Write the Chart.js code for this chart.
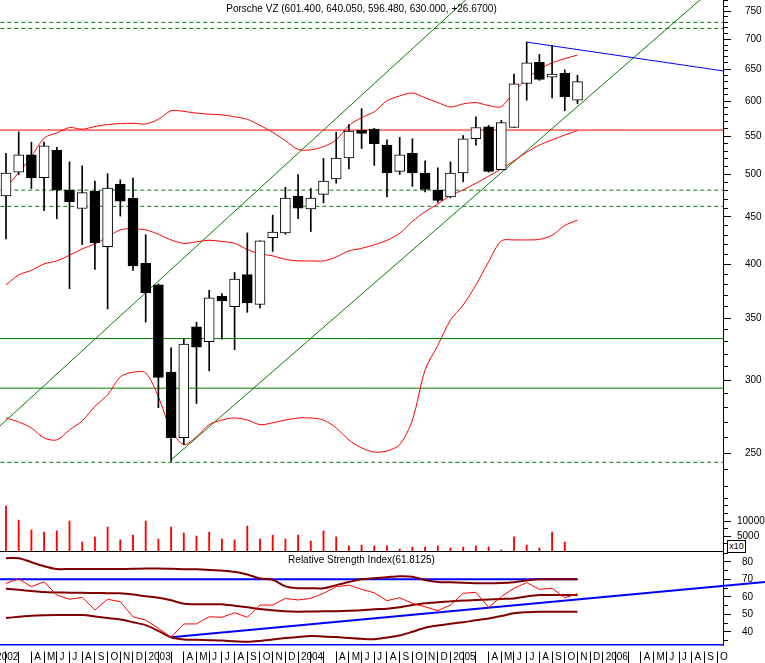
<!DOCTYPE html>
<html>
<head>
<meta charset="utf-8">
<script src="https://cdn.jsdelivr.net/npm/chart.js"></script>
<style>
  html, body { margin:0; padding:0; background:#ffffff; }
  #wrap { position:relative; width:765px; height:663px; overflow:hidden; background:#fff; }
  #wrap canvas { position:absolute; left:0; }
  .txt { position:absolute; font-family:"Liberation Sans", Arial, sans-serif; font-size:10px; line-height:12px; color:#000; white-space:nowrap; }
</style>
</head>
<body>
<div id="wrap">
  <canvas id="cPrice" width="765" height="497" style="top:0px"></canvas>
  <canvas id="cVol" width="765" height="55" style="top:497px"></canvas>
  <canvas id="cRsi" width="765" height="112" style="top:551px"></canvas>
  <div class="txt" style="left:0;width:723px;top:3px;text-align:center">Porsche VZ (601.400, 640.050, 596.480, 630.000, +26.6700)</div>
  <div class="txt" style="left:0;width:723px;top:554px;text-align:center">Relative Strength Index(61.8125)</div>
  <div class="txt" style="left:727px;top:540px;width:17px;height:11px;border:1px solid #000;font-size:9px;line-height:11px;text-align:center;background:#fff">x10</div>
</div>
<script>
// ---------- DATA (monthly, index 0 = Feb 2002 ... 45 = Nov 2005) ----------
const opens  = [474,503,525,496,531,481,459.5,480,418,488,471.3,401,380,306,260,342.5,330,369.5,360,390,362,427.5,432.5,474,459,476,494.5,521,558,560,538,504,527,502,481,473,502,546.5,563,506,562,627,661,637,643,601.4];
const highs  = [527,556,542,542,535,516,511,492,501,493.5,495.5,430.5,381,325,332.5,346.4,375,372,392,432.5,424,452,484.5,500,483,520.5,555.5,566,589,561,545,548.5,546.5,517.5,508.5,516,551,577,565,572,642,695,674,689,648.7,640.05];
const lows   = [426,500,483,457,448,376.5,420,395,358,451,394,346.4,280,245,255.5,283,307,332,323.5,355,359,413,431,448,434,466,489.5,507,533.5,511.5,473,500,485.5,479,466.5,472,491,538,503,506,562,601.5,632,605,586,596.48];
const closes = [502,525,496,537,481,467.5,478,422,483.5,468,398.5,372.8,302,260,328,325.6,368,365.3,385.5,363.5,424,433.5,471.5,460,471.5,492,521,557,554,540,502,525,502,481.8,469,502,546.5,562,504,569,626.5,660,633.5,642,607,630];

const upperBand  = [483.8,502.5,522.5,547.5,554.5,562,559.6,563.4,566.2,567.5,568,567,573.6,586,585,582.5,581,580,577.2,573.6,565,555.4,544,532.3,531.7,536,545,565,576,584.4,600.7,608,612.5,605,598,591.4,596,598,593.6,592,614.5,634,650,660,667,673];
const middleBand = [380,389.6,394,400.4,403.4,409.2,415.6,420.9,428,435.8,436.9,435.8,431,425,421.4,423,424.7,423.4,421.5,415,410.6,408.5,404.9,403.4,403.4,403.4,407.4,413.6,416.2,419.9,424.6,432.2,445,455.9,464.8,474.6,481.4,489.3,497.9,507.1,517.3,528.6,538,545,551.7,557.7];
const lowerBand  = [273,270.3,266.3,259.8,258.5,265,271,281,289.2,302.4,305.9,305.4,287.7,265,255.5,260.5,268.5,271.6,273,271.6,268.5,269.7,271.6,273,273,271.6,266.3,258.5,253.4,250.8,251.5,255.5,271.6,307.6,327,348.3,361.5,380,402.5,424,425,425,425.6,430,440.5,446.4];

const volumes = [15000,10300,7000,6300,6700,10000,3000,4700,8000,3700,5300,10000,4000,8000,6000,5000,6300,4000,3700,8300,4000,5300,4000,5300,3300,6700,4700,1700,2000,1700,1700,700,1300,1300,1700,1000,1300,1700,1300,300,4700,2000,1000,6300,3000,null];

const rsi      = [67.7,70.3,65.8,68.6,61,58.6,59.7,52.5,58.6,57.2,48.6,46.7,42,36.9,44.5,44.5,48.6,48.3,50.9,48.3,55.3,55.3,59.1,58.2,59.1,62,65.8,66.7,64.3,62.3,57.8,59.5,56.3,54.3,52.1,55.3,62,62.6,54,60.1,64.9,68.1,64.3,64.9,59.5,61.8];
const rsiUpper = [82.1,82.1,79.8,77.5,75.9,75.9,75.9,75.9,75.9,75.9,76,76.2,76.2,76,75.8,75.7,75.4,75,74.3,72.8,70.5,69.8,66,64.9,64.9,64.9,66.7,68.5,70,70.6,71.2,71.8,71.5,69.6,68.5,68.3,68,67.8,67.7,67.9,68.4,69.3,70,70,70,70];
const rsiMiddle= [64.6,64,63.3,62.7,62.5,62.4,62.3,62.2,62.1,62,61.3,60.3,59.5,58,56,55.8,55.8,55.7,54.9,54,53,52.3,51.7,51.5,51.6,51.7,51.8,52,52.3,52.9,53.2,54,55.3,56.3,56.9,57.4,57.9,58.2,58.5,58.8,59.1,60.2,61,61,61,61];
const rsiLower = [47.9,48.6,49.2,49.5,49.6,49.6,49.6,48.8,47.9,47,45.5,43.8,40.5,36.9,35.6,35.4,35.2,35,34.6,34.3,34.8,35.6,36.4,37.1,37.6,37.3,37,36.5,36,35.8,36.8,37.9,40,42.3,43.6,44.6,45.5,46.6,47.6,49,50.6,51.2,51.5,51.5,51.5,51.5];

// drawn levels / trend lines (month index, value)
const greenDashedLevels = [730, 719, 481, 462, 244.5];
const greenSolidLevels  = [332.6, 294];
const redLevels         = [558.5];
const blueTrend         = [{x:41, y:695}, {x:56.46, y:647}];
const channelUpper      = [{x:-0.4724, y:267.6}, {x:37, y:790}];
const channelLower      = [{x:13, y:246}, {x:56, y:801}];
const rsiLevel          = [{x:-0.4724, y:70}, {x:45, y:70}];
const rsiTrend          = [{x:13, y:36.9}, {x:59.76, y:68.5}];

// tick labels
const xTickLabels = ['2002','','','A','M','J','J','A','S','O','N','D',
                     '2003','','','A','M','J','J','A','S','O','N','D',
                     '2004','','','A','M','J','J','A','S','O','N','D',
                     '2005','','','A','M','J','J','A','S','O','N','D',
                     '2006','','','A','M','J','J','A','S','O'];
const priceLabels = [250,300,350,400,450,500,550,600,650,700,750];
const volLabels   = [5000,10000];
const rsiLabels   = [40,50,60,70,80];

// ---------- CHARTS ----------
const X_MIN = -0.4724, X_MAX = 56.457;
const FONT = '"Liberation Sans", Arial, sans-serif';
const basePlugins = { legend:{display:false}, tooltip:{enabled:false}, title:{display:false} };

const priceTicks = []; for (let v = 230; v <= 770; v += 10) priceTicks.push(v);
const volTicks = []; for (let v = 2500; v <= 17500; v += 2500) volTicks.push(v);
const rsiTicks = []; for (let v = 35; v <= 85; v += 5) rsiTicks.push(v);

function rightAxis(type, min, max, tickVals, labels, pad) {
  const lab = v => labels.indexOf(Math.round(v)) >= 0 ? String(Math.round(v)) : '';
  return {
    type, position:'right', min, max, bounds:'data',
    afterBuildTicks: s => { s.ticks = tickVals.map(v => ({value:v})); },
    afterFit: s => { s.width = 42; s.paddingTop = 0; s.paddingBottom = 0; },
    ticks: { autoSkip:false, padding:pad, color:'#000', font:{family:FONT, size:10}, callback: v => lab(v) },
    grid: { drawOnChartArea:false, drawTicks:true, tickLength:8, tickColor:'#000', tickWidth:1,
            tickBorderDash: ctx => (ctx.tick && lab(ctx.tick.value) !== '') ? [] : [4, 40] },
    border: { display:true, color:'#000', width:1 }
  };
}
function lineDS(points, color, width, dash, order, extra) {
  return Object.assign({ type:'line', data:points, borderColor:color, borderWidth:width, borderDash:dash || [],
    pointRadius:0, fill:false, tension:0, order }, extra || {});
}
function levelPts(v) { return [{x:-1, y:v}, {x:60, y:v}]; }
function series(arr) { return arr.map((v, i) => ({x:i, y:v})); }

// Price panel
const priceDatasets = [
  { type:'bar', data: opens.map((o, i) => ({x:i, y:[o, closes[i]]})),
    backgroundColor: opens.map((o, i) => closes[i] >= o ? '#ffffff' : '#000000'),
    borderColor:'#000', borderWidth:1, borderSkipped:false, barThickness:10, grouped:false, order:0 },
  { type:'bar', data: lows.map((l, i) => ({x:i, y:[l, highs[i]]})),
    backgroundColor:'#000', borderWidth:0, barThickness:1, grouped:false, order:1 },
  lineDS(series(upperBand), '#ff0000', 1, null, 2, {tension:0.3}),
  lineDS(series(middleBand), '#ff0000', 1, null, 2, {tension:0.3}),
  lineDS(series(lowerBand), '#ff0000', 1, null, 2, {tension:0.3}),
  lineDS(blueTrend, '#0000ff', 1, null, 3),
  lineDS(channelUpper, '#008000', 1, null, 3),
  lineDS(channelLower, '#008000', 1, null, 3)
];
greenDashedLevels.forEach(v => priceDatasets.push(lineDS(levelPts(v), '#008000', 1, [4,3], 4)));
greenSolidLevels.forEach(v => priceDatasets.push(lineDS(levelPts(v), '#008000', 1, null, 4)));
redLevels.forEach(v => priceDatasets.push(lineDS(levelPts(v), '#ff0000', 1, null, 4)));

new Chart(document.getElementById('cPrice'), {
  type:'bar',
  data:{ datasets: priceDatasets },
  options:{
    responsive:false, animation:false, devicePixelRatio:1, events:[],
    plugins: basePlugins, layout:{padding:0},
    scales:{
      x:{ type:'linear', min:X_MIN, max:X_MAX, display:false, offset:false, grid:{offset:false} },
      y: rightAxis('logarithmic', 224.3, 771.7, priceTicks, priceLabels, 14)
    }
  }
});

// Volume panel
new Chart(document.getElementById('cVol'), {
  type:'bar',
  data:{ datasets:[
    { data: volumes.map((v, i) => ({x:i, y:v})).filter(p => p.y !== null),
      backgroundColor:'#ff0000', borderWidth:0, barThickness:1.2, grouped:false }
  ]},
  options:{
    responsive:false, animation:false, devicePixelRatio:1, events:[],
    plugins: basePlugins, layout:{padding:0},
    scales:{
      x:{ type:'linear', min:X_MIN, max:X_MAX, display:true, offset:false,
          ticks:{display:false}, grid:{display:false, drawTicks:false, offset:false},
          border:{display:true, color:'#000', width:1},
          afterFit: s => { s.height = 1; s.paddingLeft = 0; s.paddingRight = 0; } },
      y: rightAxis('linear', 0, 18000, volTicks, volLabels, 6)
    }
  }
});

// RSI panel
new Chart(document.getElementById('cRsi'), {
  type:'line',
  data:{ datasets:[
    lineDS(series(rsi), '#ff0000', 1, null, 0),
    lineDS(series(rsiUpper), '#800000', 2, null, 1, {tension:0.3}),
    lineDS(series(rsiMiddle), '#800000', 2, null, 1, {tension:0.3}),
    lineDS(series(rsiLower), '#800000', 2, null, 1, {tension:0.3}),
    lineDS(rsiLevel, '#0000ff', 2, null, 2),
    lineDS(rsiTrend, '#0000ff', 2, null, 2, {clip:{left:0, top:0, right:45, bottom:0}})
  ]},
  options:{
    responsive:false, animation:false, devicePixelRatio:1, events:[],
    plugins: basePlugins, layout:{padding:0},
    scales:{
      x:{ type:'linear', min:X_MIN, max:X_MAX, position:'bottom', offset:false,
          afterBuildTicks: s => { s.ticks = xTickLabels.map((_, k) => ({value:k - 1})); },
          afterFit: s => { s.height = 18; s.paddingLeft = 0; s.paddingRight = 0; },
          ticks:{ autoSkip:false, maxRotation:0, minRotation:0, align:'start', padding:-12, color:'#000',
                  font:{family:FONT, size:10}, callback:(v, idx) => ' ' + xTickLabels[idx] },
          grid:{ drawOnChartArea:false, drawTicks:true, tickLength:18, tickColor:'#000', tickWidth:1,
                 tickBorderDash:[12,6], tickBorderDashOffset:12 },
          border:{ display:true, color:'#0000ff', width:1.5 } },
      y: rightAxis('linear', 32.46, 86.2, rsiTicks, rsiLabels, 11)
    }
  }
});
</script>
</body>
</html>
